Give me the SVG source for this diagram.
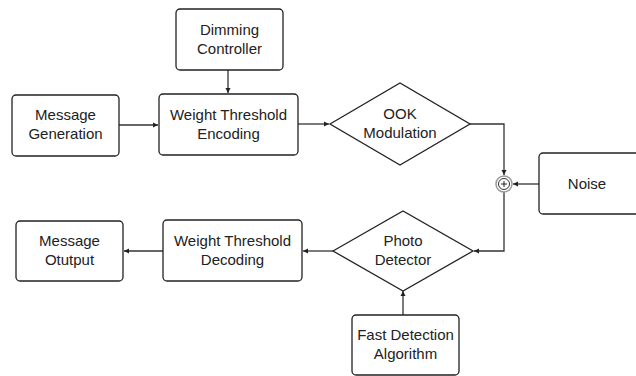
<svg xmlns="http://www.w3.org/2000/svg" width="636" height="376" viewBox="0 0 636 376">
<style>
.box{fill:#fff;stroke:#222;stroke-width:1.3}
.t{font-family:"Liberation Sans",Arial,sans-serif;font-size:15px;fill:#222;text-anchor:middle}
.c{fill:none;stroke:#333;stroke-width:1.3}
</style>
<defs>
<marker id="a" markerWidth="6" markerHeight="6" refX="5" refY="3" orient="auto" markerUnits="userSpaceOnUse">
<path d="M0,0.5 L5,3 L0,5.5 Z" fill="#222"/>
</marker>
</defs>
<rect width="636" height="376" fill="#fff"/>
<g id="connectors">
<path class="c" d="M228,70 V93" marker-end="url(#a)"/>
<path class="c" d="M119,125 H158" marker-end="url(#a)"/>
<path class="c" d="M298,124 H329" marker-end="url(#a)"/>
<path class="c" d="M470,124 H504 V175" marker-end="url(#a)"/>
<path class="c" d="M539,184 H513" marker-end="url(#a)"/>
<path class="c" d="M504,192 V251 H474" marker-end="url(#a)"/>
<path class="c" d="M333,251 H303" marker-end="url(#a)"/>
<path class="c" d="M163,251 H124" marker-end="url(#a)"/>
<path class="c" d="M403,315 V291" marker-end="url(#a)"/>
</g>
<g id="dimming">
<rect class="box" x="176" y="9" width="107" height="61" rx="4"/>
<text class="t" x="229.5" y="35">Dimming</text>
<text class="t" x="229.5" y="54">Controller</text>
</g>
<g id="msggen">
<rect class="box" x="12" y="95" width="107" height="61" rx="4"/>
<text class="t" x="65.5" y="120">Message</text>
<text class="t" x="65.5" y="139">Generation</text>
</g>
<g id="wte">
<rect class="box" x="159" y="94" width="139" height="61" rx="4"/>
<text class="t" x="228.5" y="120">Weight Threshold</text>
<text class="t" x="228.5" y="139">Encoding</text>
</g>
<g id="ook">
<polygon class="box" points="330,124 400,83 470,124 400,165"/>
<text class="t" x="400" y="119">OOK</text>
<text class="t" x="400" y="138">Modulation</text>
</g>
<g id="sum">
<circle cx="504" cy="184" r="8" fill="#fff" stroke="#999" stroke-width="1.5"/>
<circle cx="504" cy="184" r="5.5" fill="#fff" stroke="#333" stroke-width="1"/>
<path d="M501,184 H507 M504,181 V187" stroke="#222" stroke-width="1"/>
</g>
<g id="noise">
<rect class="box" x="539" y="153" width="110" height="61" rx="4"/>
<text class="t" x="587" y="189">Noise</text>
</g>
<g id="photo">
<polygon class="box" points="333,251 403,211 473,251 403,291"/>
<text class="t" x="403" y="246">Photo</text>
<text class="t" x="403" y="265">Detector</text>
</g>
<g id="fda">
<rect class="box" x="352" y="315" width="107" height="60" rx="4"/>
<text class="t" x="405.5" y="340">Fast Detection</text>
<text class="t" x="405.5" y="359">Algorithm</text>
</g>
<g id="wtd">
<rect class="box" x="163" y="220" width="139" height="61" rx="4"/>
<text class="t" x="232.5" y="246">Weight Threshold</text>
<text class="t" x="232.5" y="265">Decoding</text>
</g>
<g id="msgout">
<rect class="box" x="16" y="221" width="107" height="60" rx="4"/>
<text class="t" x="69.5" y="246">Message</text>
<text class="t" x="69.5" y="265">Otutput</text>
</g>
</svg>
